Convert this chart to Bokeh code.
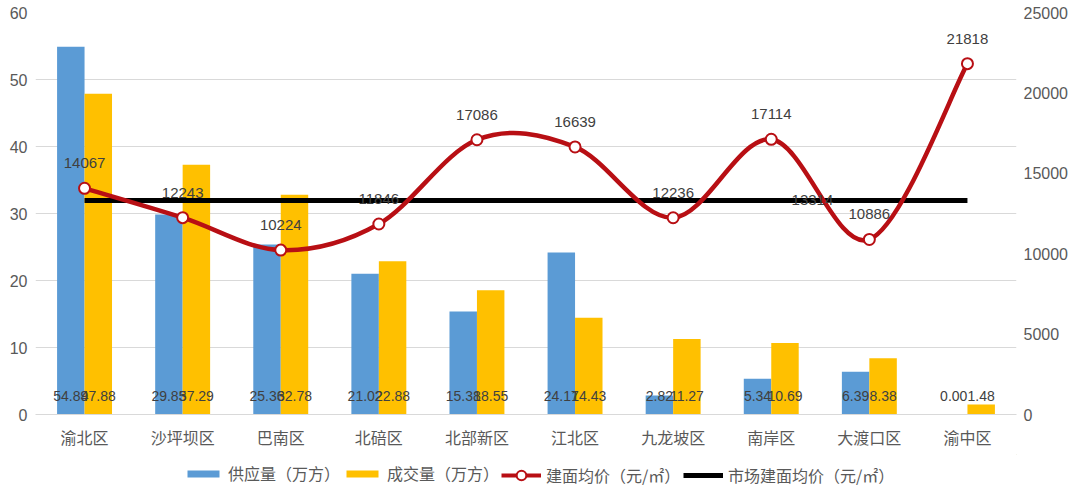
import numpy as np
from bokeh.plotting import figure
from bokeh.layouts import column
from bokeh.models import Range1d, LinearAxis, FixedTicker, Legend, LegendItem
from bokeh.core.properties import value
from bokeh.embed import file_html
from bokeh.resources import INLINE

districts = ["渝北区", "沙坪坝区", "巴南区", "北碚区", "北部新区", "江北区", "九龙坡区", "南岸区", "大渡口区", "渝中区"]
supply = [54.89, 29.85, 25.36, 21.02, 15.38, 24.17, 2.82, 5.34, 6.39, 0.00]
deals = [47.88, 37.29, 32.78, 22.88, 18.55, 14.43, 11.27, 10.69, 8.38, 1.48]
price = [14067, 12243, 10224, 11846, 17086, 16639, 12236, 17114, 10886, 21818]
market_avg = [13314, 13314, 13314, 13314, 13314, 13314, 13314, 13314, 13314, 13314]
market_label_pos = 7.42
left_ticks = [0, 10, 20, 30, 40, 50, 60]
right_ticks = [0, 5000, 10000, 15000, 20000, 25000]
legend_labels = ["供应量（万方）", "成交量（万方）", "建面均价（元/㎡）", "市场建面均价（元/㎡）"]

CJK = "Noto Sans CJK SC"
NUM = "Liberation Sans"
BLUE = "#5B9BD5"
YELLOW = "#FFC000"
RED = "#B80F14"
GRID = "#D9D9D9"
TXT = "#595959"
LBL = "#404040"

n = len(districts)
x = np.arange(n, dtype=float)

p = figure(width=1076, height=454, x_range=Range1d(-0.5, n - 0.5), y_range=Range1d(0, 60),
           output_backend="svg", toolbar_location=None,
           min_border_left=35, min_border_right=60, min_border_top=12, min_border_bottom=40)
p.outline_line_color = None
p.extra_y_ranges = {"price": Range1d(0, 25000)}

# axes
xa = p.xaxis[0]
xa.ticker = FixedTicker(ticks=list(range(n)))
xa.major_label_overrides = {i: d for i, d in enumerate(districts)}
xa.major_tick_line_color = None
xa.minor_tick_line_color = None
xa.major_tick_out = 0
xa.axis_line_color = GRID
xa.major_label_text_font = CJK
xa.major_label_text_font_size = "16px"
xa.major_label_text_color = TXT
xa.major_label_standoff = 10

ya = p.yaxis[0]
ya.ticker = FixedTicker(ticks=left_ticks)
ya.axis_line_color = None
ya.major_tick_line_color = None
ya.minor_tick_line_color = None
ya.major_tick_out = 0
ya.major_label_text_font = NUM
ya.major_label_text_font_size = "16px"
ya.major_label_text_color = TXT
ya.major_label_standoff = 8

ra = LinearAxis(y_range_name="price", ticker=FixedTicker(ticks=right_ticks))
ra.axis_line_color = None
ra.major_tick_line_color = None
ra.minor_tick_line_color = None
ra.major_tick_out = 0
ra.major_label_text_font = NUM
ra.major_label_text_font_size = "16px"
ra.major_label_text_color = TXT
ra.major_label_standoff = 7
p.add_layout(ra, "right")

p.xgrid.grid_line_color = None
p.ygrid.ticker = FixedTicker(ticks=left_ticks)
p.ygrid.grid_line_color = GRID

# bars
bw = 0.28
p.vbar(x=x - bw / 2, top=supply, width=bw, fill_color=BLUE, line_color=None)
p.vbar(x=x + bw / 2, top=deals, width=bw, fill_color=YELLOW, line_color=None)

# market average line
p.line(x, market_avg, y_range_name="price", line_color="black", line_width=5)

# smoothed price curve (Catmull-Rom -> cubic bezier)
px = list(x)
py = list(price)
ex = [px[0]] + px + [px[-1]]
ey = [py[0]] + py + [py[-1]]
x0, y0, x1, y1, cx0, cy0, cx1, cy1 = [], [], [], [], [], [], [], []
for i in range(n - 1):
    j = i + 1
    x0.append(px[i]); y0.append(py[i])
    x1.append(px[i + 1]); y1.append(py[i + 1])
    cx0.append(px[i] + (ex[j + 1] - ex[j - 1]) / 6)
    cy0.append(py[i] + (ey[j + 1] - ey[j - 1]) / 6)
    cx1.append(px[i + 1] - (ex[j + 2] - ex[j]) / 6)
    cy1.append(py[i + 1] - (ey[j + 2] - ey[j]) / 6)
p.bezier(x0=x0, y0=y0, x1=x1, y1=y1, cx0=cx0, cy0=cy0, cx1=cx1, cy1=cy1,
         y_range_name="price", line_color=RED, line_width=4.5)
p.scatter(x, price, y_range_name="price", marker="circle", size=11,
          fill_color="white", line_color=RED, line_width=2)

# labels
p.text(x=x - bw / 2, y=[0] * n, text=[f"{v:.2f}" for v in supply], y_offset=-19,
       text_font=value(NUM), text_font_size="14px", text_color=LBL,
       text_align="center", text_baseline="middle")
p.text(x=x + bw / 2, y=[0] * n, text=[f"{v:.2f}" for v in deals], y_offset=-19,
       text_font=value(NUM), text_font_size="14px", text_color=LBL,
       text_align="center", text_baseline="middle")
p.text(x=x, y=price, text=[str(v) for v in price], y_range_name="price", y_offset=-25,
       text_font=value(NUM), text_font_size="15px", text_color=LBL,
       text_align="center", text_baseline="middle")
p.text(x=[market_label_pos], y=[market_avg[0]], text=[str(market_avg[0])], y_range_name="price",
       text_font=value(NUM), text_font_size="15px", text_color=LBL,
       text_align="center", text_baseline="middle")

# legend strip (legend-only glyphs sit outside the visible range)
lg = figure(width=1076, height=38, x_range=Range1d(0, 1), y_range=Range1d(0, 1),
            output_backend="svg", toolbar_location=None, x_axis_type=None, y_axis_type=None,
            min_border=0)
lg.outline_line_color = None
lg.grid.visible = False
off = [5]
l_sup = lg.vbar(x=off, top=off, bottom=off, width=1, fill_color=BLUE, line_color=None)
l_deal = lg.vbar(x=off, top=off, bottom=off, width=1, fill_color=YELLOW, line_color=None)
l_line = lg.line(x=off, y=off, line_color=RED, line_width=4)
l_pts = lg.scatter(x=off, y=off, marker="circle", size=11, fill_color="white", line_color=RED, line_width=2)
l_mkt = lg.line(x=off, y=off, line_color="black", line_width=5)

legend_specs = [
    (legend_labels[0], [l_sup], 148, 7, 9),
    (legend_labels[1], [l_deal], 307, 7, 9),
    (legend_labels[2], [l_line, l_pts], 466, 5, 24),
    (legend_labels[3], [l_mkt], 648, 5, 24),
]
for label, rends, lx, ly, gh in legend_specs:
    leg = Legend(items=[LegendItem(label=label, renderers=rends)], location=(lx, ly))
    leg.orientation = "horizontal"
    leg.label_text_font = CJK
    leg.label_text_font_size = "16px"
    leg.label_text_color = TXT
    leg.glyph_width = 40
    leg.glyph_height = gh
    leg.label_standoff = 5
    leg.padding = 0
    leg.margin = 0
    leg.border_line_color = None
    leg.background_fill_alpha = 0
    lg.add_layout(leg)

open("out.html", "w").write(file_html(column(p, lg, spacing=0), INLINE))
